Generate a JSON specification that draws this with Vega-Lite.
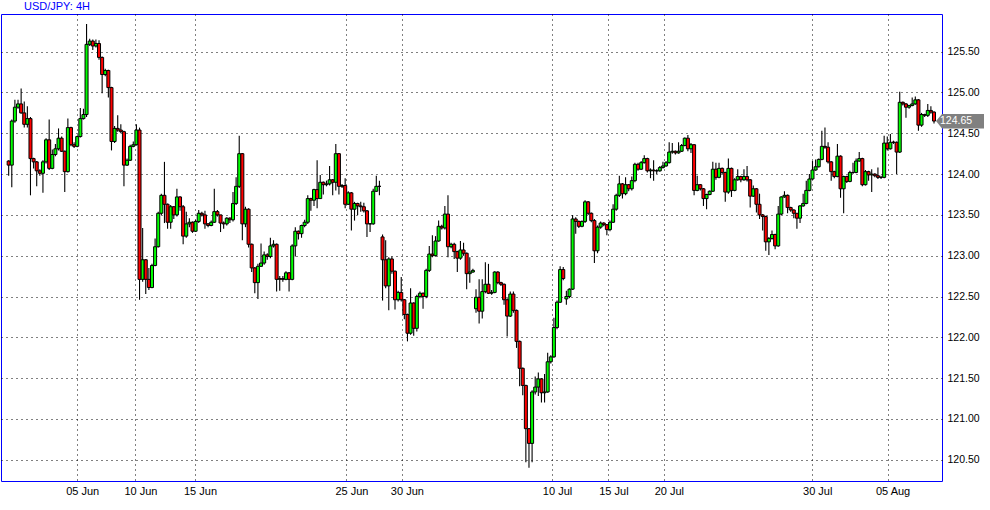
{
"$schema":"https://vega.github.io/schema/vega-lite/v6.json",
"width":941,"height":467,
"autosize":{"type":"none"},
"padding":{"left":1,"top":14,"right":48,"bottom":29},
"background":"white",
"title":{"text":"USD/JPY: 4H","anchor":"start","dx":23,"offset":2,"fontSize":11,"font":"Liberation Sans","fontWeight":"normal","color":"#0000ff"},
"config":{"view":{"stroke":"#0000ff","strokeWidth":1}},
"data":{"values":[
{"i":0,"o":124.16,"h":124.17,"l":123.98,"c":124.11},
{"i":1,"o":124.11,"h":124.67,"l":123.84,"c":124.65},
{"i":2,"o":124.65,"h":124.91,"l":124.63,"c":124.82},
{"i":3,"o":124.82,"h":124.91,"l":124.80,"c":124.86},
{"i":4,"o":124.86,"h":125.05,"l":124.74,"c":124.75},
{"i":5,"o":124.75,"h":124.89,"l":124.57,"c":124.61},
{"i":6,"o":124.61,"h":124.83,"l":124.57,"c":124.68},
{"i":7,"o":124.68,"h":124.70,"l":123.74,"c":124.19},
{"i":8,"o":124.19,"h":124.20,"l":124.07,"c":124.15},
{"i":9,"o":124.15,"h":124.16,"l":123.85,"c":124.04},
{"i":10,"o":124.04,"h":124.06,"l":123.98,"c":124.01},
{"i":11,"o":124.01,"h":124.17,"l":123.77,"c":124.15},
{"i":12,"o":124.15,"h":124.44,"l":124.13,"c":124.42},
{"i":13,"o":124.42,"h":124.67,"l":124.05,"c":124.07},
{"i":14,"o":124.07,"h":124.30,"l":124.06,"c":124.24},
{"i":15,"o":124.24,"h":124.37,"l":124.22,"c":124.31},
{"i":16,"o":124.31,"h":124.56,"l":124.29,"c":124.44},
{"i":17,"o":124.44,"h":124.46,"l":124.27,"c":124.28},
{"i":18,"o":124.28,"h":124.29,"l":123.78,"c":124.03},
{"i":19,"o":124.03,"h":124.68,"l":124.02,"c":124.57},
{"i":20,"o":124.57,"h":124.58,"l":124.34,"c":124.36},
{"i":21,"o":124.36,"h":124.39,"l":124.32,"c":124.34},
{"i":22,"o":124.34,"h":124.47,"l":124.33,"c":124.46},
{"i":23,"o":124.46,"h":124.81,"l":124.45,"c":124.68},
{"i":24,"o":124.68,"h":124.80,"l":124.67,"c":124.73},
{"i":25,"o":124.73,"h":125.84,"l":124.70,"c":125.59},
{"i":26,"o":125.59,"h":125.66,"l":125.57,"c":125.63},
{"i":27,"o":125.63,"h":125.65,"l":125.52,"c":125.57},
{"i":28,"o":125.57,"h":125.65,"l":125.55,"c":125.60},
{"i":29,"o":125.60,"h":125.64,"l":125.40,"c":125.43},
{"i":30,"o":125.43,"h":125.44,"l":124.99,"c":125.22},
{"i":31,"o":125.22,"h":125.29,"l":125.20,"c":125.27},
{"i":32,"o":125.27,"h":125.28,"l":124.94,"c":125.06},
{"i":33,"o":125.06,"h":125.07,"l":124.29,"c":124.40},
{"i":34,"o":124.40,"h":124.59,"l":124.38,"c":124.56},
{"i":35,"o":124.56,"h":124.72,"l":124.52,"c":124.54},
{"i":36,"o":124.54,"h":124.61,"l":124.50,"c":124.52},
{"i":37,"o":124.52,"h":124.53,"l":123.85,"c":124.11},
{"i":38,"o":124.11,"h":124.19,"l":124.10,"c":124.17},
{"i":39,"o":124.17,"h":124.36,"l":124.16,"c":124.34},
{"i":40,"o":124.34,"h":124.40,"l":124.33,"c":124.36},
{"i":41,"o":124.36,"h":124.61,"l":124.35,"c":124.54},
{"i":42,"o":124.54,"h":124.57,"l":122.46,"c":122.71},
{"i":43,"o":122.71,"h":123.34,"l":122.68,"c":122.95},
{"i":44,"o":122.95,"h":122.96,"l":122.53,"c":122.71},
{"i":45,"o":122.71,"h":122.85,"l":122.58,"c":122.61},
{"i":46,"o":122.61,"h":122.90,"l":122.60,"c":122.88},
{"i":47,"o":122.88,"h":123.21,"l":122.87,"c":123.11},
{"i":48,"o":123.11,"h":123.54,"l":123.10,"c":123.52},
{"i":49,"o":123.52,"h":123.76,"l":123.50,"c":123.74},
{"i":50,"o":123.74,"h":124.15,"l":123.40,"c":123.63},
{"i":51,"o":123.63,"h":123.64,"l":123.33,"c":123.41},
{"i":52,"o":123.41,"h":123.62,"l":123.33,"c":123.60},
{"i":53,"o":123.60,"h":123.61,"l":123.45,"c":123.50},
{"i":54,"o":123.50,"h":123.82,"l":123.48,"c":123.72},
{"i":55,"o":123.72,"h":123.73,"l":123.55,"c":123.60},
{"i":56,"o":123.60,"h":123.62,"l":123.14,"c":123.24},
{"i":57,"o":123.24,"h":123.54,"l":123.22,"c":123.39},
{"i":58,"o":123.39,"h":123.46,"l":123.35,"c":123.41},
{"i":59,"o":123.41,"h":123.42,"l":123.28,"c":123.30},
{"i":60,"o":123.30,"h":123.44,"l":123.29,"c":123.42},
{"i":61,"o":123.42,"h":123.56,"l":123.40,"c":123.52},
{"i":62,"o":123.52,"h":123.54,"l":123.48,"c":123.50},
{"i":63,"o":123.50,"h":123.55,"l":123.33,"c":123.39},
{"i":64,"o":123.39,"h":123.40,"l":123.35,"c":123.37},
{"i":65,"o":123.37,"h":123.43,"l":123.36,"c":123.41},
{"i":66,"o":123.41,"h":123.82,"l":123.40,"c":123.54},
{"i":67,"o":123.54,"h":123.56,"l":123.48,"c":123.50},
{"i":68,"o":123.50,"h":123.50,"l":123.29,"c":123.40},
{"i":69,"o":123.40,"h":123.42,"l":123.33,"c":123.39},
{"i":70,"o":123.39,"h":123.47,"l":123.37,"c":123.46},
{"i":71,"o":123.46,"h":123.47,"l":123.40,"c":123.44},
{"i":72,"o":123.44,"h":123.78,"l":123.42,"c":123.64},
{"i":73,"o":123.64,"h":123.96,"l":123.62,"c":123.85},
{"i":74,"o":123.85,"h":124.47,"l":123.83,"c":124.25},
{"i":75,"o":124.25,"h":124.26,"l":123.19,"c":123.39},
{"i":76,"o":123.39,"h":123.60,"l":123.35,"c":123.57},
{"i":77,"o":123.57,"h":123.58,"l":123.10,"c":123.14},
{"i":78,"o":123.14,"h":123.15,"l":122.80,"c":122.85},
{"i":79,"o":122.85,"h":122.86,"l":122.54,"c":122.67},
{"i":80,"o":122.67,"h":122.90,"l":122.47,"c":122.87},
{"i":81,"o":122.87,"h":123.15,"l":122.86,"c":122.91},
{"i":82,"o":122.91,"h":123.05,"l":122.89,"c":123.01},
{"i":83,"o":123.01,"h":123.03,"l":122.95,"c":122.99},
{"i":84,"o":122.99,"h":123.22,"l":122.97,"c":123.12},
{"i":85,"o":123.12,"h":123.19,"l":123.10,"c":123.14},
{"i":86,"o":123.14,"h":123.15,"l":122.56,"c":122.71},
{"i":87,"o":122.71,"h":122.75,"l":122.57,"c":122.72},
{"i":88,"o":122.72,"h":122.75,"l":122.68,"c":122.71},
{"i":89,"o":122.71,"h":122.81,"l":122.70,"c":122.79},
{"i":90,"o":122.79,"h":122.80,"l":122.56,"c":122.71},
{"i":91,"o":122.71,"h":123.14,"l":122.70,"c":123.12},
{"i":92,"o":123.12,"h":123.35,"l":122.99,"c":123.30},
{"i":93,"o":123.30,"h":123.31,"l":123.20,"c":123.27},
{"i":94,"o":123.27,"h":123.38,"l":123.22,"c":123.37},
{"i":95,"o":123.37,"h":123.44,"l":123.35,"c":123.41},
{"i":96,"o":123.41,"h":123.74,"l":123.39,"c":123.70},
{"i":97,"o":123.70,"h":123.71,"l":123.55,"c":123.68},
{"i":98,"o":123.68,"h":123.82,"l":123.61,"c":123.81},
{"i":99,"o":123.81,"h":124.17,"l":123.58,"c":123.70},
{"i":100,"o":123.70,"h":123.99,"l":123.70,"c":123.90},
{"i":101,"o":123.90,"h":123.91,"l":123.75,"c":123.87},
{"i":102,"o":123.87,"h":123.92,"l":123.85,"c":123.88},
{"i":103,"o":123.88,"h":124.10,"l":123.86,"c":123.93},
{"i":104,"o":123.93,"h":123.94,"l":123.74,"c":123.90},
{"i":105,"o":123.90,"h":124.37,"l":123.80,"c":124.25},
{"i":106,"o":124.25,"h":124.26,"l":123.75,"c":123.85},
{"i":107,"o":123.85,"h":123.88,"l":123.83,"c":123.86},
{"i":108,"o":123.86,"h":123.95,"l":123.58,"c":123.63},
{"i":109,"o":123.63,"h":123.79,"l":123.62,"c":123.77},
{"i":110,"o":123.77,"h":123.78,"l":123.31,"c":123.57},
{"i":111,"o":123.57,"h":123.66,"l":123.43,"c":123.64},
{"i":112,"o":123.64,"h":123.65,"l":123.50,"c":123.61},
{"i":113,"o":123.61,"h":123.66,"l":123.54,"c":123.60},
{"i":114,"o":123.60,"h":123.65,"l":123.53,"c":123.55},
{"i":115,"o":123.55,"h":123.56,"l":123.23,"c":123.39},
{"i":116,"o":123.39,"h":123.40,"l":123.29,"c":123.39},
{"i":117,"o":123.39,"h":123.82,"l":123.38,"c":123.79},
{"i":118,"o":123.79,"h":123.98,"l":123.78,"c":123.85},
{"i":119,"o":123.85,"h":123.92,"l":123.74,"c":123.85},
{"i":120,"o":123.23,"h":123.26,"l":122.45,"c":122.95},
{"i":121,"o":122.95,"h":123.19,"l":122.60,"c":122.63},
{"i":122,"o":122.63,"h":122.98,"l":122.33,"c":122.96},
{"i":123,"o":122.96,"h":122.99,"l":122.78,"c":122.81},
{"i":124,"o":122.81,"h":122.82,"l":122.34,"c":122.46},
{"i":125,"o":122.46,"h":122.57,"l":122.44,"c":122.55},
{"i":126,"o":122.55,"h":122.74,"l":122.44,"c":122.46},
{"i":127,"o":122.46,"h":122.47,"l":122.22,"c":122.28},
{"i":128,"o":122.28,"h":122.29,"l":121.95,"c":122.05},
{"i":129,"o":122.05,"h":122.60,"l":122.03,"c":122.42},
{"i":130,"o":122.42,"h":122.43,"l":122.02,"c":122.11},
{"i":131,"o":122.11,"h":122.52,"l":122.07,"c":122.50},
{"i":132,"o":122.50,"h":122.56,"l":122.48,"c":122.54},
{"i":133,"o":122.54,"h":122.55,"l":122.35,"c":122.50},
{"i":134,"o":122.50,"h":122.84,"l":122.48,"c":122.82},
{"i":135,"o":122.82,"h":123.12,"l":122.80,"c":123.02},
{"i":136,"o":123.02,"h":123.25,"l":122.98,"c":123.00},
{"i":137,"o":123.00,"h":123.24,"l":122.99,"c":123.18},
{"i":138,"o":123.18,"h":123.43,"l":123.17,"c":123.36},
{"i":139,"o":123.36,"h":123.38,"l":123.32,"c":123.34},
{"i":140,"o":123.34,"h":123.61,"l":123.32,"c":123.51},
{"i":141,"o":123.51,"h":123.74,"l":122.98,"c":123.11},
{"i":142,"o":123.11,"h":123.16,"l":123.09,"c":123.14},
{"i":143,"o":123.14,"h":123.16,"l":122.96,"c":123.05},
{"i":144,"o":123.05,"h":123.06,"l":122.80,"c":122.97},
{"i":145,"o":122.97,"h":123.18,"l":122.95,"c":123.07},
{"i":146,"o":123.07,"h":123.16,"l":123.00,"c":123.03},
{"i":147,"o":123.03,"h":123.04,"l":122.59,"c":122.78},
{"i":148,"o":122.78,"h":122.98,"l":122.67,"c":122.80},
{"i":149,"o":122.80,"h":122.84,"l":122.79,"c":122.82},
{"i":150,"o":122.35,"h":122.59,"l":122.30,"c":122.49},
{"i":151,"o":122.49,"h":122.71,"l":122.17,"c":122.32},
{"i":152,"o":122.32,"h":122.71,"l":122.23,"c":122.56},
{"i":153,"o":122.56,"h":122.92,"l":122.54,"c":122.65},
{"i":154,"o":122.65,"h":122.90,"l":122.53,"c":122.54},
{"i":155,"o":122.54,"h":122.58,"l":122.52,"c":122.55},
{"i":156,"o":122.55,"h":122.81,"l":122.54,"c":122.80},
{"i":157,"o":122.80,"h":122.81,"l":122.65,"c":122.67},
{"i":158,"o":122.67,"h":122.68,"l":122.63,"c":122.65},
{"i":159,"o":122.65,"h":122.66,"l":122.40,"c":122.46},
{"i":160,"o":122.46,"h":122.48,"l":122.01,"c":122.26},
{"i":161,"o":122.26,"h":122.56,"l":122.25,"c":122.53},
{"i":162,"o":122.53,"h":122.56,"l":122.30,"c":122.33},
{"i":163,"o":122.33,"h":122.34,"l":121.87,"c":121.95},
{"i":164,"o":121.95,"h":121.96,"l":121.40,"c":121.62},
{"i":165,"o":121.62,"h":121.63,"l":121.29,"c":121.41},
{"i":166,"o":121.41,"h":121.42,"l":120.47,"c":120.88},
{"i":167,"o":120.88,"h":120.89,"l":120.40,"c":120.70},
{"i":168,"o":120.70,"h":121.35,"l":120.47,"c":121.33},
{"i":169,"o":121.33,"h":121.52,"l":121.30,"c":121.39},
{"i":170,"o":121.39,"h":121.57,"l":121.28,"c":121.49},
{"i":171,"o":121.49,"h":121.50,"l":121.20,"c":121.32},
{"i":172,"o":121.32,"h":121.55,"l":121.20,"c":121.33},
{"i":173,"o":121.33,"h":121.81,"l":121.32,"c":121.70},
{"i":174,"o":121.70,"h":121.78,"l":121.68,"c":121.76},
{"i":175,"o":121.76,"h":122.24,"l":121.75,"c":122.12},
{"i":176,"o":122.12,"h":122.45,"l":122.10,"c":122.43},
{"i":177,"o":122.43,"h":122.87,"l":122.42,"c":122.83},
{"i":178,"o":122.83,"h":122.86,"l":122.70,"c":122.72},
{"i":179,"o":122.47,"h":122.57,"l":122.40,"c":122.50},
{"i":180,"o":122.50,"h":122.60,"l":122.48,"c":122.59},
{"i":181,"o":122.59,"h":123.50,"l":122.58,"c":123.45},
{"i":182,"o":123.45,"h":123.47,"l":123.27,"c":123.42},
{"i":183,"o":123.42,"h":123.43,"l":123.34,"c":123.36},
{"i":184,"o":123.36,"h":123.43,"l":123.35,"c":123.42},
{"i":185,"o":123.42,"h":123.68,"l":123.40,"c":123.66},
{"i":186,"o":123.66,"h":123.67,"l":123.50,"c":123.52},
{"i":187,"o":123.52,"h":123.53,"l":123.41,"c":123.43},
{"i":188,"o":123.43,"h":123.45,"l":122.91,"c":123.06},
{"i":189,"o":123.06,"h":123.37,"l":123.03,"c":123.35},
{"i":190,"o":123.35,"h":123.42,"l":123.33,"c":123.40},
{"i":191,"o":123.40,"h":123.41,"l":123.36,"c":123.38},
{"i":192,"o":123.38,"h":123.39,"l":123.25,"c":123.32},
{"i":193,"o":123.32,"h":123.43,"l":123.30,"c":123.41},
{"i":194,"o":123.41,"h":123.63,"l":123.40,"c":123.57},
{"i":195,"o":123.57,"h":123.76,"l":123.55,"c":123.74},
{"i":196,"o":123.74,"h":123.98,"l":123.72,"c":123.88},
{"i":197,"o":123.88,"h":123.89,"l":123.70,"c":123.76},
{"i":198,"o":123.76,"h":123.96,"l":123.74,"c":123.87},
{"i":199,"o":123.87,"h":123.88,"l":123.79,"c":123.82},
{"i":200,"o":123.82,"h":123.97,"l":123.80,"c":123.92},
{"i":201,"o":123.92,"h":124.14,"l":123.90,"c":124.12},
{"i":202,"o":124.12,"h":124.14,"l":124.04,"c":124.06},
{"i":203,"o":124.06,"h":124.16,"l":124.05,"c":124.14},
{"i":204,"o":124.14,"h":124.23,"l":124.13,"c":124.19},
{"i":205,"o":124.19,"h":124.20,"l":124.02,"c":124.04},
{"i":206,"o":124.04,"h":124.07,"l":123.95,"c":124.05},
{"i":207,"o":124.05,"h":124.17,"l":123.92,"c":124.04},
{"i":208,"o":124.04,"h":124.06,"l":124.00,"c":124.04},
{"i":209,"o":124.04,"h":124.10,"l":124.03,"c":124.08},
{"i":210,"o":124.08,"h":124.15,"l":124.07,"c":124.10},
{"i":211,"o":124.10,"h":124.16,"l":124.09,"c":124.14},
{"i":212,"o":124.14,"h":124.39,"l":124.13,"c":124.27},
{"i":213,"o":124.27,"h":124.38,"l":124.25,"c":124.28},
{"i":214,"o":124.28,"h":124.29,"l":124.24,"c":124.26},
{"i":215,"o":124.26,"h":124.39,"l":124.25,"c":124.28},
{"i":216,"o":124.28,"h":124.37,"l":124.27,"c":124.35},
{"i":217,"o":124.35,"h":124.45,"l":124.34,"c":124.44},
{"i":218,"o":124.44,"h":124.48,"l":124.28,"c":124.31},
{"i":219,"o":124.31,"h":124.38,"l":124.26,"c":124.36},
{"i":220,"o":124.36,"h":124.37,"l":123.74,"c":123.80},
{"i":221,"o":123.80,"h":123.98,"l":123.79,"c":123.87},
{"i":222,"o":123.87,"h":123.88,"l":123.80,"c":123.82},
{"i":223,"o":123.82,"h":123.83,"l":123.61,"c":123.70},
{"i":224,"o":123.70,"h":123.76,"l":123.57,"c":123.75},
{"i":225,"o":123.75,"h":123.80,"l":123.74,"c":123.79},
{"i":226,"o":123.79,"h":124.15,"l":123.78,"c":124.06},
{"i":227,"o":124.06,"h":124.14,"l":123.93,"c":123.96},
{"i":228,"o":123.96,"h":124.14,"l":123.95,"c":124.07},
{"i":229,"o":124.07,"h":124.08,"l":124.00,"c":124.02},
{"i":230,"o":124.02,"h":124.03,"l":123.66,"c":123.78},
{"i":231,"o":123.78,"h":124.19,"l":123.76,"c":124.07},
{"i":232,"o":124.07,"h":124.08,"l":123.72,"c":123.80},
{"i":233,"o":123.80,"h":123.95,"l":123.79,"c":123.93},
{"i":234,"o":123.93,"h":124.06,"l":123.92,"c":123.97},
{"i":235,"o":123.97,"h":123.98,"l":123.90,"c":123.93},
{"i":236,"o":123.93,"h":124.06,"l":123.92,"c":123.97},
{"i":237,"o":123.97,"h":124.10,"l":123.91,"c":123.93},
{"i":238,"o":123.93,"h":123.94,"l":123.59,"c":123.73},
{"i":239,"o":123.73,"h":123.86,"l":123.72,"c":123.82},
{"i":240,"o":123.82,"h":123.83,"l":123.53,"c":123.63},
{"i":241,"o":123.63,"h":123.76,"l":123.45,"c":123.50},
{"i":242,"o":123.50,"h":123.51,"l":123.31,"c":123.48},
{"i":243,"o":123.48,"h":123.49,"l":123.06,"c":123.17},
{"i":244,"o":123.17,"h":123.23,"l":123.01,"c":123.21},
{"i":245,"o":123.21,"h":123.31,"l":123.20,"c":123.26},
{"i":246,"o":123.26,"h":123.27,"l":123.08,"c":123.12},
{"i":247,"o":123.12,"h":123.61,"l":123.11,"c":123.51},
{"i":248,"o":123.51,"h":123.73,"l":123.50,"c":123.72},
{"i":249,"o":123.72,"h":123.79,"l":123.71,"c":123.74},
{"i":250,"o":123.74,"h":123.75,"l":123.52,"c":123.59},
{"i":251,"o":123.59,"h":123.60,"l":123.54,"c":123.56},
{"i":252,"o":123.56,"h":123.57,"l":123.46,"c":123.52},
{"i":253,"o":123.52,"h":123.52,"l":123.33,"c":123.46},
{"i":254,"o":123.46,"h":123.62,"l":123.40,"c":123.61},
{"i":255,"o":123.61,"h":123.76,"l":123.60,"c":123.64},
{"i":256,"o":123.64,"h":123.92,"l":123.63,"c":123.80},
{"i":257,"o":123.80,"h":124.00,"l":123.79,"c":123.94},
{"i":258,"o":123.94,"h":124.16,"l":123.93,"c":124.05},
{"i":259,"o":124.05,"h":124.18,"l":124.04,"c":124.09},
{"i":260,"o":124.09,"h":124.19,"l":124.08,"c":124.18},
{"i":261,"o":124.18,"h":124.53,"l":124.17,"c":124.34},
{"i":262,"o":124.34,"h":124.57,"l":124.31,"c":124.33},
{"i":263,"o":124.33,"h":124.39,"l":124.13,"c":124.15},
{"i":264,"o":124.15,"h":124.16,"l":123.92,"c":124.03},
{"i":265,"o":124.03,"h":124.04,"l":123.95,"c":123.97},
{"i":266,"o":123.97,"h":124.37,"l":123.96,"c":124.22},
{"i":267,"o":124.22,"h":124.23,"l":123.71,"c":123.82},
{"i":268,"o":123.82,"h":123.98,"l":123.52,"c":123.97},
{"i":269,"o":123.97,"h":123.98,"l":123.89,"c":123.91},
{"i":270,"o":123.91,"h":124.04,"l":123.90,"c":124.02},
{"i":271,"o":124.02,"h":124.14,"l":124.00,"c":124.02},
{"i":272,"o":124.02,"h":124.19,"l":124.01,"c":124.16},
{"i":273,"o":124.16,"h":124.27,"l":124.15,"c":124.19},
{"i":274,"o":124.19,"h":124.20,"l":123.85,"c":123.87},
{"i":275,"o":123.87,"h":124.05,"l":123.86,"c":124.03},
{"i":276,"o":124.03,"h":124.04,"l":123.92,"c":123.99},
{"i":277,"o":123.99,"h":124.06,"l":123.78,"c":124.00},
{"i":278,"o":124.00,"h":124.01,"l":123.96,"c":123.98},
{"i":279,"o":123.98,"h":124.08,"l":123.94,"c":123.96},
{"i":280,"o":123.96,"h":123.98,"l":123.94,"c":123.96},
{"i":281,"o":123.96,"h":124.47,"l":123.95,"c":124.38},
{"i":282,"o":124.38,"h":124.46,"l":124.29,"c":124.31},
{"i":283,"o":124.31,"h":124.49,"l":124.30,"c":124.39},
{"i":284,"o":124.39,"h":124.41,"l":124.37,"c":124.39},
{"i":285,"o":124.39,"h":124.40,"l":124.00,"c":124.27},
{"i":286,"o":124.27,"h":125.01,"l":124.26,"c":124.88},
{"i":287,"o":124.88,"h":124.89,"l":124.84,"c":124.86},
{"i":288,"o":124.86,"h":124.87,"l":124.69,"c":124.82},
{"i":289,"o":124.82,"h":124.85,"l":124.80,"c":124.84},
{"i":290,"o":124.84,"h":124.94,"l":124.83,"c":124.86},
{"i":291,"o":124.86,"h":124.95,"l":124.85,"c":124.91},
{"i":292,"o":124.91,"h":124.92,"l":124.53,"c":124.60},
{"i":293,"o":124.60,"h":124.75,"l":124.58,"c":124.73},
{"i":294,"o":124.73,"h":124.74,"l":124.70,"c":124.72},
{"i":295,"o":124.72,"h":124.86,"l":124.70,"c":124.78},
{"i":296,"o":124.78,"h":124.83,"l":124.74,"c":124.76},
{"i":297,"o":124.76,"h":124.77,"l":124.62,"c":124.65}
]},
"encoding":{
"x":{"field":"i","type":"quantitative","scale":{"domain":[-0.857,297.96],"nice":false,"zero":false},
"axis":{"orient":"bottom","title":null,"values":[22,40.7,59.8,108.4,126.2,174.4,192.5,210.3,257.9,282.1],
"labelExpr":"datum.value==22?'05 Jun':datum.value==40.7?'10 Jun':datum.value==59.8?'15 Jun':datum.value==108.4?'25 Jun':datum.value==126.2?'30 Jun':datum.value==174.4?'10 Jul':datum.value==192.5?'15 Jul':datum.value==210.3?'20 Jul':datum.value==257.9?'30 Jul':'05 Aug'",
"ticks":false,"domain":false,"labelPadding":4,"labelAlign":"center","labelOffset":5,"labelBaseline":"top","labelFont":"Liberation Sans Narrow, Liberation Sans, sans-serif","labelFontSize":11,"labelColor":"black","labelOverlap":false,"labelFlush":false,
"grid":true,"gridColor":"black","gridDash":[1,4],"gridOpacity":1,"gridWidth":1}}
},
"layer":[
{"mark":{"type":"rule","color":"black","strokeWidth":1.1},
"encoding":{"y":{"field":"l","type":"quantitative","scale":{"domain":[120.239,125.962],"nice":false,"zero":false},
"axis":{"orient":"right","title":null,"values":[120.5,121,121.5,122,122.5,123,123.5,124,124.5,125,125.5],"format":".2f","ticks":false,"domain":false,"labelPadding":5,"labelFont":"Liberation Sans, sans-serif","labelFontSize":10.5,"labelColor":"black","labelBaseline":"middle","labelFlush":false,"labelOverlap":false,
"grid":true,"gridColor":"black","gridDash":[1,4],"gridOpacity":1,"gridWidth":1}},
"y2":{"field":"h"}}},
{"mark":{"type":"bar","width":3,"stroke":"black","strokeWidth":1},
"encoding":{"y":{"field":"o","type":"quantitative"},"y2":{"field":"c"},
"fill":{"condition":{"test":"datum.c >= datum.o","value":"#00ff00"},"value":"#ff0000"}}},
{"transform":[{"filter":"datum.i == 297"}],
"mark":{"type":"point","shape":"M 0.2 0 L 0.8 -0.7 L 5 -0.7 L 5 0.75 L 0.8 0.75 Z","size":400,"filled":true,"fill":"#808080","strokeWidth":0,"opacity":1},
"encoding":{"y":{"field":"c","type":"quantitative"}}},
{"transform":[{"filter":"datum.i == 297"}],
"mark":{"type":"text","dx":6,"align":"left","baseline":"middle","color":"white","font":"Liberation Sans, sans-serif","fontSize":10.5},
"encoding":{"y":{"field":"c","type":"quantitative"},"text":{"field":"c","type":"quantitative","format":".2f"}}}
]
}
